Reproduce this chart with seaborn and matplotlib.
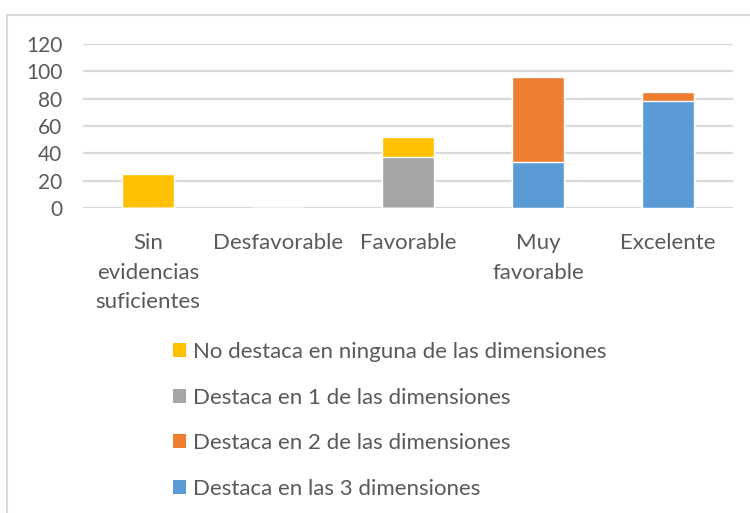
import matplotlib
import numpy as np
import pandas as pd
import seaborn as sns

matplotlib.use("Agg")
import matplotlib.pyplot as plt
from matplotlib.lines import Line2D
from matplotlib.patches import Patch


categories = ["Sin\nevidencias\nsuficientes", "Desfavorable", "Favorable", "Muy\nfavorable", "Excelente"]
ninguna = [25, 0.3, 15, 0, 0]
una = [0, 0, 37, 0, 0]
dos = [0, 0, 0, 62, 7]
tres = [0, 0, 0, 34, 78]

series_labels = [
    "No destaca en ninguna de las dimensiones",
    "Destaca en 1 de las dimensiones",
    "Destaca en 2 de las dimensiones",
    "Destaca en las 3 dimensiones",
]
series_colors = ["#FFC000", "#A5A5A5", "#ED7D31", "#5B9BD5"]
y_ticks = [0, 20, 40, 60, 80, 100, 120]

TEXT = "#595959"
GRID = "#D9D9D9"


def setup_style() -> None:
    sns.set_theme(style="white")
    plt.rcParams["font.family"] = ["Lato", "DejaVu Sans"]
    plt.rcParams["text.color"] = TEXT
    plt.rcParams["xtick.color"] = TEXT
    plt.rcParams["ytick.color"] = TEXT


def main() -> None:
    setup_style()

    # stacked from bottom: 3 dims, 2 dims, 1 dim, none
    stack = np.array([tres, dos, una, ninguna], dtype=float)
    cum = np.cumsum(stack, axis=0)
    df = pd.DataFrame({"cat": categories})

    fig = plt.figure(figsize=(7.5, 5.13), dpi=100)
    ax = fig.add_axes([83 / 750, 1 - 208 / 513, 650 / 750, 164 / 513])

    # draw the tallest cumulative layer first, lower layers on top
    layer_colors = series_colors[::-1]
    for i in range(3, -1, -1):
        df["val"] = cum[i]
        sns.barplot(data=df, x="cat", y="val", color=layer_colors[i], saturation=1,
                    width=0.4, ax=ax, zorder=3)

    ax.set_ylim(0, 120)
    ax.set_yticks(y_ticks)
    ax.yaxis.grid(True, color=GRID, linewidth=1.6, zorder=0)
    ax.set_axisbelow(True)
    for side in ax.spines.values():
        side.set_visible(False)
    ax.set_xlabel("")
    ax.set_ylabel("")
    ax.tick_params(axis="y", length=0, pad=15, labelsize=15)
    ax.tick_params(axis="x", length=0, pad=18, labelsize=16)
    for lab in ax.get_xticklabels():
        lab.set_linespacing(1.6)
        lab.set_verticalalignment("top")

    handles = [Patch(facecolor=c, edgecolor="none") for c in series_colors]
    fig.legend(
        handles,
        series_labels,
        loc="upper left",
        bbox_to_anchor=(173 / 750, 1 - 342 / 513),
        frameon=False,
        fontsize=16,
        handlelength=0.6,
        handleheight=0.6,
        handletextpad=0.3,
        labelspacing=1.15,
        borderpad=0,
        borderaxespad=0,
        labelcolor=TEXT,
    )

    # chart frame border (left and top edges visible)
    x0 = 7 / 750
    y0 = 1 - 15 / 513
    fig.add_artist(Line2D([x0, x0], [0, y0], transform=fig.transFigure, color=GRID, linewidth=1.5))
    fig.add_artist(Line2D([x0, 1], [y0, y0], transform=fig.transFigure, color=GRID, linewidth=1.5))

    fig.savefig("out.png", dpi=100, facecolor="white")
    plt.close(fig)


if __name__ == "__main__":
    main()
